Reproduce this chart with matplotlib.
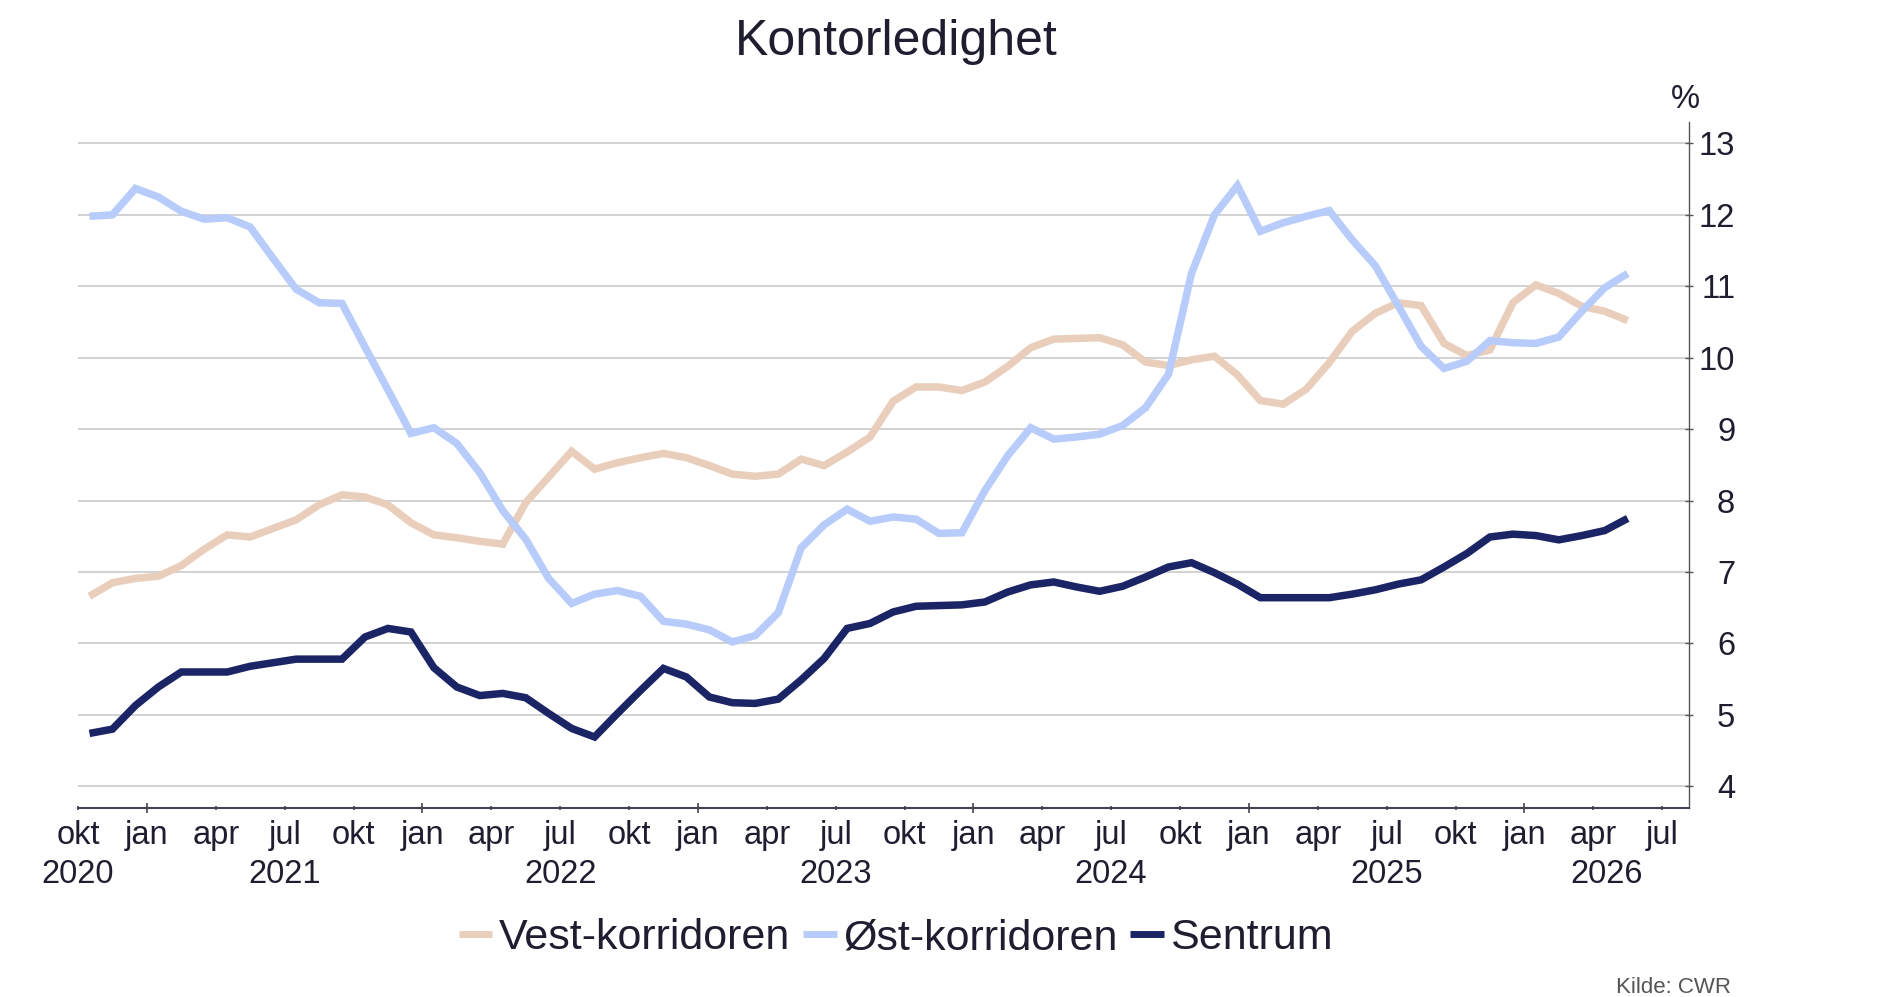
import numpy as np
import matplotlib
matplotlib.use("Agg")
import matplotlib.pyplot as plt
import matplotlib.transforms as mtransforms
from matplotlib.lines import Line2D

plt.rcParams['font.family'] = ['Liberation Sans', 'DejaVu Sans']

# ---------------- data (monthly, Oct 2020 .. May 2026) ----------------
series_names = ["Vest-korridoren", "Øst-korridoren", "Sentrum"]

vest = [6.66, 6.85, 6.91, 6.94, 7.09, 7.32, 7.52, 7.49, 7.61, 7.73, 7.94, 8.08,
        8.05, 7.94, 7.69, 7.52, 7.48, 7.43, 7.39, 7.97, 8.33, 8.69, 8.44, 8.53,
        8.60, 8.66, 8.60, 8.49, 8.37, 8.34, 8.37, 8.58, 8.49, 8.68, 8.89, 9.39,
        9.59, 9.59, 9.54, 9.66, 9.88, 10.14, 10.26, 10.27, 10.28, 10.18, 9.94, 9.89,
        9.97, 10.02, 9.76, 9.40, 9.35, 9.56, 9.93, 10.37, 10.62, 10.77, 10.73, 10.20,
        10.03, 10.11, 10.77, 11.02, 10.90, 10.72, 10.65, 10.52]

ost = [11.98, 12.00, 12.37, 12.25, 12.05, 11.94, 11.96, 11.83, 11.39, 10.96, 10.77, 10.76,
       10.15, 9.55, 8.94, 9.02, 8.80, 8.39, 7.86, 7.46, 6.91, 6.56, 6.69, 6.74,
       6.66, 6.31, 6.27, 6.19, 6.02, 6.11, 6.43, 7.34, 7.66, 7.88, 7.71, 7.77,
       7.74, 7.54, 7.55, 8.14, 8.63, 9.02, 8.86, 8.89, 8.93, 9.05, 9.30, 9.77,
       11.18, 12.00, 12.41, 11.77, 11.89, 11.98, 12.06, 11.65, 11.29, 10.73, 10.16, 9.85,
       9.95, 10.24, 10.21, 10.20, 10.29, 10.65, 10.98, 11.18]

sentrum = [4.74, 4.80, 5.13, 5.39, 5.60, 5.60, 5.60, 5.68, 5.73, 5.78, 5.78, 5.78,
           6.09, 6.21, 6.16, 5.66, 5.39, 5.27, 5.30, 5.24, 5.02, 4.81, 4.69, 5.02,
           5.34, 5.65, 5.53, 5.25, 5.17, 5.16, 5.22, 5.49, 5.79, 6.21, 6.28, 6.44,
           6.52, 6.53, 6.54, 6.58, 6.72, 6.82, 6.86, 6.79, 6.73, 6.80, 6.93, 7.07,
           7.13, 6.99, 6.83, 6.64, 6.64, 6.64, 6.64, 6.69, 6.75, 6.83, 6.89, 7.07,
           7.26, 7.49, 7.53, 7.51, 7.45, 7.51, 7.58, 7.75]

quarter_labels = ["okt", "jan", "apr", "jul"]
years = [2020, 2021, 2022, 2023, 2024, 2025, 2026]
yticks = [4, 5, 6, 7, 8, 9, 10, 11, 12, 13]

colors = ["#E9CFBB", "#B7CCFB", "#1B2566"]
text_col = "#1E1E30"

# months since 1 Oct 2020; each value plotted at mid-month
x = np.arange(len(vest)) + 0.5
x_end = 70.17  # axis ends early Aug 2026

# ---------------- figure ----------------
W, H = 1886, 997
fig = plt.figure(figsize=(W / 100, H / 100), dpi=100)
left, right, bottom, top = 78, 1689, 807.7, 122
ax = fig.add_axes([left / W, 1 - bottom / H, (right - left) / W, (bottom - top) / H])

for vals, c, name in zip([vest, ost, sentrum], colors, series_names):
    ax.plot(x, vals, color=c, lw=5.4, solid_joinstyle="miter", solid_capstyle="butt",
            label=name, zorder=3)

ax.set_xlim(0, x_end)
ax.set_ylim(3.7, 13.3)

# y axis on right
ax.yaxis.tick_right()
ax.set_yticks(yticks)
ax.set_yticklabels([str(v) for v in yticks], ha="right")
ax.yaxis.grid(True, color="#CFCFCF", lw=1.3, zorder=0)
ax.set_axisbelow(True)
ax.tick_params(axis="y", direction="inout", length=5.5, width=1.0, color="#555555",
               labelsize=23.5, labelcolor=text_col, pad=30.5)

# x axis ticks: quarters; long ticks at January
qpos = np.arange(0, 70, 3)
jan_pos = [p for p in qpos if (p % 12) == 3]
other_pos = [p for p in qpos if (p % 12) != 3]
lab = {p: quarter_labels[(p // 3) % 4] for p in qpos}
ax.set_xticks(jan_pos)
ax.set_xticklabels([lab[p] for p in jan_pos])
ax.set_xticks(other_pos, minor=True)
ax.set_xticklabels([lab[p] for p in other_pos], minor=True)
ax.tick_params(axis="x", which="major", direction="inout", length=6.5, width=1.2,
               color="#444455", labelsize=23.5, labelcolor=text_col, pad=5.6)
ax.tick_params(axis="x", which="minor", direction="inout", length=2.5, width=1.2,
               color="#444455", labelsize=23.5, labelcolor=text_col, pad=7.6)

for s in ["top", "left"]:
    ax.spines[s].set_visible(False)
ax.spines["right"].set_color("#555555")
ax.spines["right"].set_linewidth(1.0)
ax.spines["bottom"].set_color("#444455")
ax.spines["bottom"].set_linewidth(1.5)

# year labels (second line)
trans = mtransforms.blended_transform_factory(ax.transData, ax.transAxes)
for yr in years:
    start = (yr - 2021) * 12 + 3
    s = max(start, 0)
    e = min(start + 12, x_end)
    xc = s if yr == 2020 else (s + e) / 2
    ax.text(xc, -0.098, str(yr), transform=trans, ha="center", va="center",
            fontsize=23.5, color=text_col)

# percent sign above axis
ax.text(0.998, (bottom - 100) / (bottom - top), "%", transform=ax.transAxes,
        ha="center", va="center", fontsize=23.5, color=text_col)

# title
fig.text(896 / W, 1 - 42 / H, "Kontorledighet", ha="center", va="center",
         fontsize=36, color=text_col)

# legend
handles = [Line2D([0], [0], color=c, lw=5.0, solid_capstyle="butt") for c in colors]
fig.legend(handles, series_names, loc="center", bbox_to_anchor=(896 / W, 1 - 938 / H),
           ncol=3, frameon=False, fontsize=31, handlelength=0.78, handletextpad=0.15,
           columnspacing=0.3, labelcolor=text_col, borderaxespad=0, borderpad=0)

# source
fig.text(1731 / W, 1 - 993 / H, "Kilde: CWR", ha="right", va="baseline",
         fontsize=16, color="#555555")

fig.savefig("out.png", dpi=100)
